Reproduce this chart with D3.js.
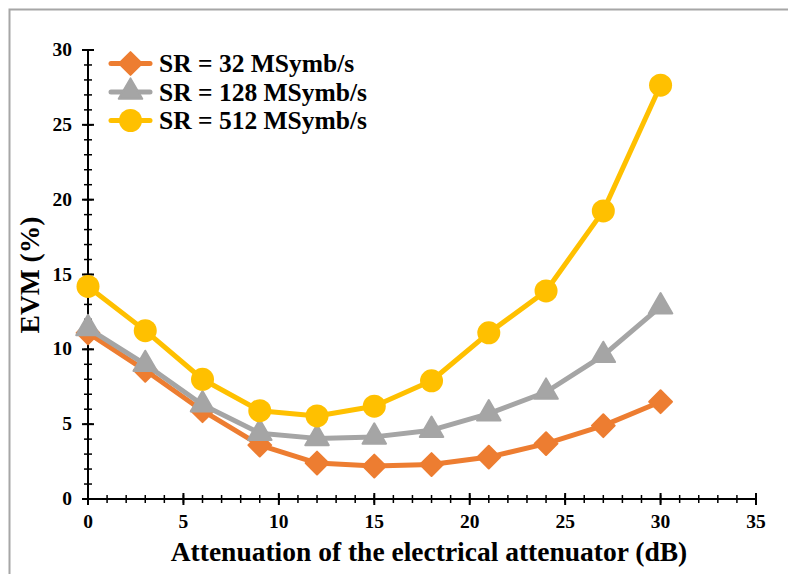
<!DOCTYPE html>
<html><head><meta charset="utf-8">
<script src="https://cdn.jsdelivr.net/npm/d3@7"></script>
<style>body{margin:0;background:#fff}svg{display:block}text{font-family:"Liberation Serif","Times New Roman",serif;font-weight:bold}</style>
</head><body>
<script>
const xValues = [0,3,6,9,12,15,18,21,24,27,30];
const sr32 = [11.1,8.6,5.9,3.6,2.4,2.2,2.3,2.8,3.7,4.9,6.5];
const sr128 = [11.4,9.0,6.3,4.4,4.05,4.15,4.6,5.7,7.15,9.6,12.85];
const sr512 = [14.2,11.25,8.0,5.9,5.55,6.2,7.9,11.1,13.9,19.25,27.65];
const seriesNames = ["SR = 32 MSymb/s","SR = 128 MSymb/s","SR = 512 MSymb/s"];
const seriesColors = ["#ED7D31","#A5A5A5","#FFC000"];
const seriesShapes = ["diamond","triangle","circle"];
const xTicks = [0,5,10,15,20,25,30,35];
const yTicks = [0,5,10,15,20,25,30];
const xTitle = "Attenuation of the electrical attenuator (dB)";
const yTitle = "EVM (%)";

const W=788,H=574;
const svg=d3.select("body").append("svg").attr("width",W).attr("height",H);
svg.append("path").attr("d","M9.5,"+H+"V9.5H"+W).attr("fill","none").attr("stroke","#A6A6A6").attr("stroke-width",2);

const x=d3.scaleLinear().domain([0,35]).range([88,756]);
const y=d3.scaleLinear().domain([0,30]).range([499,50]);

const g=svg.append("g");
const xMinor=d3.range(0,36,1), yMinor=d3.range(0,31,1);
g.selectAll(".xm").data(xMinor).enter().append("line")
 .attr("x1",d=>x(d)).attr("x2",d=>x(d)).attr("y1",y(0)-4).attr("y2",y(0)+4).attr("stroke","#000").attr("stroke-width",1.5);
g.selectAll(".ym").data(yMinor).enter().append("line")
 .attr("y1",d=>y(d)).attr("y2",d=>y(d)).attr("x1",x(0)-4).attr("x2",x(0)+4).attr("stroke","#000").attr("stroke-width",1.5);
g.selectAll(".xM").data(xTicks).enter().append("line")
 .attr("x1",d=>x(d)).attr("x2",d=>x(d)).attr("y1",y(0)-6).attr("y2",y(0)+6).attr("stroke","#000").attr("stroke-width",2);
g.selectAll(".yM").data(yTicks).enter().append("line")
 .attr("y1",d=>y(d)).attr("y2",d=>y(d)).attr("x1",x(0)-6).attr("x2",x(0)+6).attr("stroke","#000").attr("stroke-width",2);
g.append("line").attr("x1",x(0)).attr("x2",x(35)).attr("y1",y(0)).attr("y2",y(0)).attr("stroke","#000").attr("stroke-width",2);
g.append("line").attr("x1",x(0)).attr("x2",x(0)).attr("y1",y(0)).attr("y2",y(30)).attr("stroke","#000").attr("stroke-width",2);

g.selectAll(".xl").data(xTicks).enter().append("text").attr("x",d=>x(d)).attr("y",y(0)+29)
 .attr("text-anchor","middle").attr("font-size",19.5).text(d=>d);
g.selectAll(".yl").data(yTicks).enter().append("text").attr("x",x(0)-16).attr("y",d=>y(d)+6)
 .attr("text-anchor","end").attr("font-size",19.5).text(d=>d);

svg.append("text").attr("x",429).attr("y",561).attr("text-anchor","middle").attr("font-size",27.5).text(xTitle);
svg.append("text").attr("transform","translate(39,275) rotate(-90)").attr("text-anchor","middle").attr("font-size",27.5).text(yTitle);

const data=[sr32,sr128,sr512];
function marker(sel,shape,color,cx,cy){
  if(shape==="circle") sel.append("circle").attr("cx",cx).attr("cy",cy).attr("r",11.5).attr("fill",color);
  else if(shape==="diamond") sel.append("path").attr("d",d3.symbol(d3.symbolSquare,260)()).attr("transform",`translate(${cx},${cy}) rotate(45)`).attr("fill",color).attr("stroke",color).attr("stroke-width",2).attr("stroke-linejoin","round");
  else sel.append("path").attr("d",d3.symbol(d3.symbolTriangle,240)()).attr("transform",`translate(${cx},${cy})`).attr("fill",color).attr("stroke",color).attr("stroke-width",2).attr("stroke-linejoin","round");
}
const line=d3.line().x(d=>x(d[0])).y(d=>y(d[1]));
data.forEach((vals,i)=>{
  const pts=xValues.map((xv,j)=>[xv,vals[j]]);
  const sg=svg.append("g");
  sg.append("path").attr("d",line(pts)).attr("fill","none").attr("stroke",seriesColors[i]).attr("stroke-width",5).attr("stroke-linejoin","round");
  pts.forEach(p=>marker(sg,seriesShapes[i],seriesColors[i],x(p[0]),y(p[1])));
});

seriesNames.forEach((n,i)=>{
  const ly=63.5+i*28.5;
  const lg=svg.append("g");
  lg.append("line").attr("x1",111).attr("x2",150).attr("y1",ly).attr("y2",ly).attr("stroke",seriesColors[i]).attr("stroke-width",5).attr("stroke-linecap","round");
  marker(lg,seriesShapes[i],seriesColors[i],130.5,ly);
  lg.append("text").attr("x",159).attr("y",ly+8.5).attr("font-size",25.5).text(n);
});
</script>
</body></html>
